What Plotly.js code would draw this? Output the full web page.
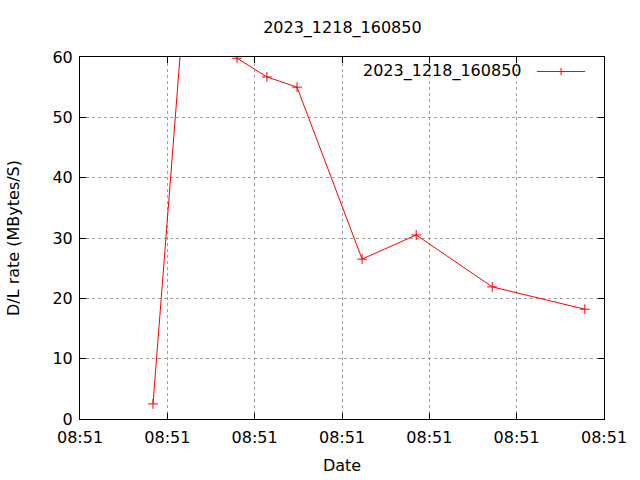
<!DOCTYPE html>
<html>
<head>
<meta charset="utf-8">
<script src="https://cdn.plot.ly/plotly-3.0.1.min.js"></script>
<style>html,body{margin:0;padding:0;background:#fff;}#chart{width:640px;height:480px;}</style>
</head>
<body>
<div id="chart"></div>
<script>
// seconds within minute 08:51
var timeSec = [8.36, 14.0, 17.98, 21.4, 24.85, 32.3, 38.5, 47.2, 57.8];
var rate = [2.5, 107.5, 59.8, 56.7, 55.0, 26.5, 30.5, 21.9, 18.2];
var tickSec = [0, 10, 20, 30, 40, 50, 60];
var tickText = ["08:51", "08:51", "08:51", "08:51", "08:51", "08:51", "08:51"];
var seriesName = "2023_1218_160850";

var font = {family: "DejaVu Sans, sans-serif", size: 16, color: "#000"};

var trace = {
  x: timeSec, y: rate, type: "scatter", mode: "lines+markers",
  name: seriesName,
  line: {color: "#ff0000", width: 1},
  marker: {symbol: "cross-thin", size: 7, line: {color: "#ff0000", width: 1}, color: "#ff0000"},
  cliponaxis: true, showlegend: false
};

var axisCommon = {
  showline: true, linecolor: "#000", linewidth: 1, mirror: "ticks",
  ticks: "inside", ticklen: 6, tickcolor: "#000", tickwidth: 1,
  showgrid: true, gridcolor: "#a0a0a0", gridwidth: 1, griddash: "dot",
  zeroline: false, tickfont: font
};

var layout = {
  width: 640, height: 480,
  paper_bgcolor: "#fff", plot_bgcolor: "#fff",
  margin: {l: 80, r: 36, t: 57, b: 61},
  font: font,
  title: {text: seriesName, font: font, x: 0.535, xanchor: "center", y: 0.943, yanchor: "middle"},
  showlegend: false,
  xaxis: Object.assign({}, axisCommon, {
    range: [0, 60], tickvals: tickSec, ticktext: tickText, ticklabelstandoff: 4,
    title: {text: "Date", font: font, standoff: 13}
  }),
  yaxis: Object.assign({}, axisCommon, {
    range: [0, 60], dtick: 10, tick0: 0, ticklabelstandoff: 3,
    title: {text: "D/L rate (MBytes/S)", font: font, standoff: 28}
  }),
  annotations: [{
    xref: "paper", yref: "paper", x: 0.847, y: 0.96, xanchor: "right", yanchor: "middle",
    text: seriesName, showarrow: false, font: font
  }],
  shapes: [
    {type: "line", xref: "paper", yref: "paper", x0: 0.872, x1: 0.964, y0: 0.96, y1: 0.96,
     line: {color: "#ff0000", width: 1}},
    {type: "line", xref: "paper", yref: "paper", x0: 0.918, x1: 0.918, y0: 0.95, y1: 0.97,
     line: {color: "#ff0000", width: 1}}
  ]
};

Plotly.newPlot("chart", [trace], layout, {displayModeBar: false, staticPlot: true});
</script>
</body>
</html>
